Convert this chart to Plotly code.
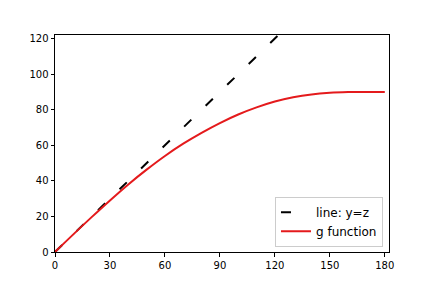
import plotly.graph_objects as go

# data
z_line = [0, 122.5]
y_line = [0, 122.5]

z_g = [0, 10, 20, 30, 40, 50, 60, 70, 80, 90, 100, 110, 120, 130, 140, 150, 160, 170, 180]
g_vals = [0, 9.9, 19.6, 29.0, 38.0, 46.3, 54.0, 60.9, 67.0, 72.5, 77.3, 81.3, 84.6,
          87.0, 88.6, 89.5, 89.9, 90.0, 90.0]

x_ticks = [0, 30, 60, 90, 120, 150, 180]
y_ticks = [0, 20, 40, 60, 80, 100, 120]

fig = go.Figure()
fig.add_trace(go.Scatter(x=z_line, y=y_line, mode="lines", name="line: y=z",
                         line=dict(color="black", width=2, dash="10px,20px")))
fig.add_trace(go.Scatter(x=z_g, y=g_vals, mode="lines", name="g function",
                         line=dict(color="#e41a1c", width=2, shape="spline", smoothing=1.0)))

axis_common = dict(showgrid=False, zeroline=False, showline=True, linecolor="black",
                   linewidth=1, mirror=True, ticks="outside", ticklen=3.5, tickwidth=1,
                   tickcolor="black", tickfont=dict(family="DejaVu Sans", size=10, color="black"))
fig.update_xaxes(range=[0, 182.3], tickvals=x_ticks, **axis_common)
fig.update_yaxes(range=[0, 122], tickvals=y_ticks, **axis_common)

fig.update_layout(
    width=432, height=288,
    margin=dict(l=55, r=43, t=35, b=36),
    paper_bgcolor="white", plot_bgcolor="white",
    font=dict(family="DejaVu Sans", size=12, color="black"),
    legend=dict(x=0.982, y=0.024, xanchor="right", yanchor="bottom",
                bgcolor="rgba(255,255,255,0.8)", bordercolor="#cccccc", borderwidth=1,
                font=dict(family="DejaVu Sans", size=12)),
    showlegend=True,
)
fig.write_html("out.html", config={"displayModeBar": False},
               post_script="document.body.style.margin='0';document.body.style.padding='0';")
